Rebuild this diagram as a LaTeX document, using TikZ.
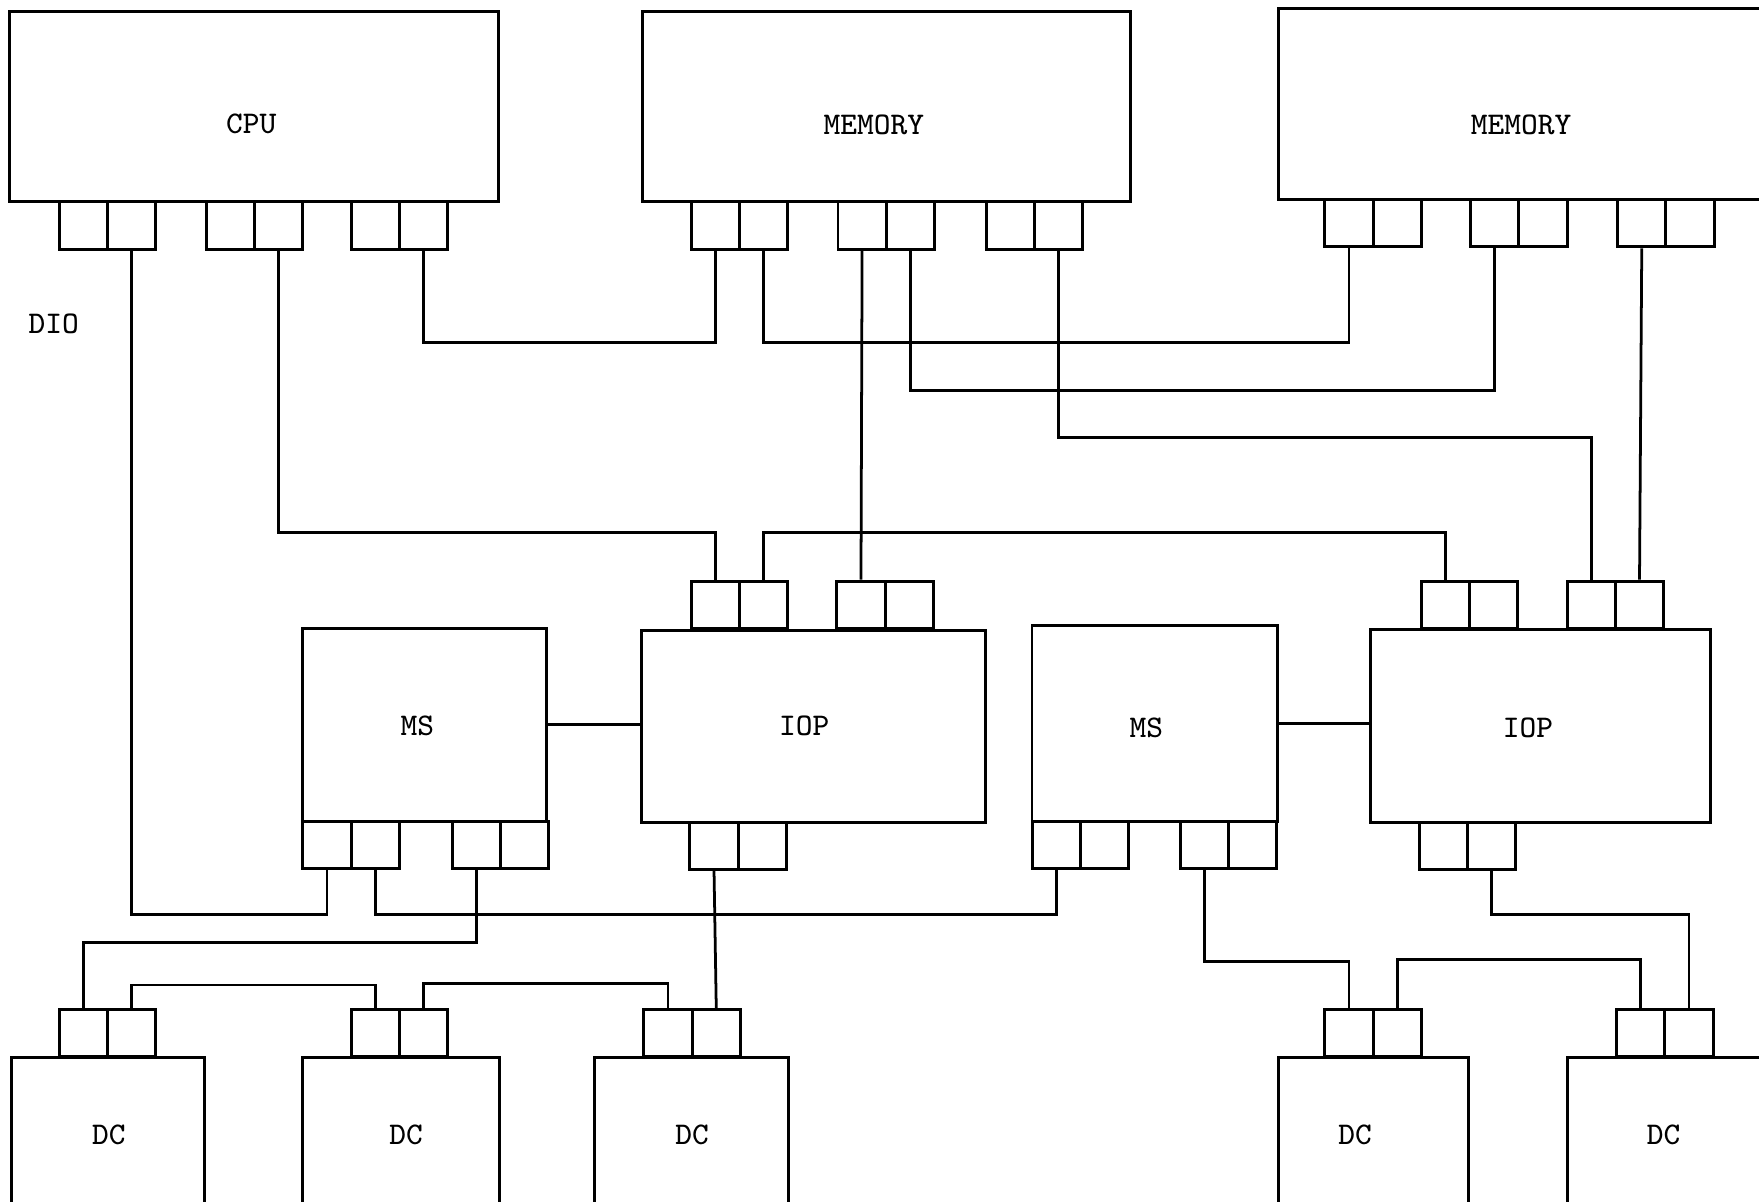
\documentclass[tikz,border=0pt]{standalone}
\usetikzlibrary{calc}

\begin{document}
\begin{tikzpicture}[x=0.01cm, y=-0.01cm, line width=0.75pt,
    unit/.style={draw, inner sep=0pt},
    port/.style={draw, inner sep=0pt, minimum width=0.43cm, minimum height=0.42cm},
    tag/.style={font=\ttfamily\fontsize{8}{10}\selectfont, inner sep=0pt},
    wire/.style={line width=0.7pt}]
            \useasboundingbox (0,0) rectangle (1568,1071);
            \clip (0,0) rectangle (1568,1071);

            % big units
            \node[unit, minimum width=4.35cm, minimum height=1.70cm] (cpu) at (226.5,95) {};
            \node[unit, minimum width=4.35cm, minimum height=1.70cm] (mem1) at (790.5,95) {};
            \node[unit, minimum width=4.35cm, minimum height=1.70cm] (mem2) at (1357.5,93) {};
            \node[unit, minimum width=2.17cm, minimum height=1.72cm] (ms1) at (378.5,646) {};
            \node[unit, minimum width=3.06cm, minimum height=1.71cm] (iop1) at (725,647.5) {};
            \node[unit, minimum width=2.19cm, minimum height=1.74cm] (ms2) at (1029.5,645) {};
            \node[unit, minimum width=3.03cm, minimum height=1.72cm] (iop2) at (1373.5,647) {};
            \node[unit, minimum width=1.72cm, minimum height=1.40cm] (dc1) at (96,1013) {};
            \node[unit, minimum width=1.75cm, minimum height=1.40cm] (dc2) at (357.5,1013) {};
            \node[unit, minimum width=1.73cm, minimum height=1.40cm] (dc3) at (616.5,1013) {};
            \node[unit, minimum width=1.69cm, minimum height=1.40cm] (dc4) at (1224.5,1013) {};
            \node[unit, minimum width=1.78cm, minimum height=1.40cm] (dc5) at (1486,1013) {};

            \node[tag] (cpu-t) at (224,110) {CPU};
            \node[tag] (mem1-t) at (779,111) {MEMORY};
            \node[tag] (mem2-t) at (1356,111) {MEMORY};
            \node[tag] (ms1-t) at (372,647) {MS};
            \node[tag] (iop1-t) at (717,647) {IOP};
            \node[tag] (ms2-t) at (1022,649) {MS};
            \node[tag] (iop2-t) at (1362,649) {IOP};
            \node[tag] (dc1-t) at (97,1012) {DC};
            \node[tag] (dc2-t) at (362,1012) {DC};
            \node[tag] (dc3-t) at (617,1012) {DC};
            \node[tag] (dc4-t) at (1208,1012) {DC};
            \node[tag] (dc5-t) at (1483,1012) {DC};
            \node[tag] (dio) at (48,289) {DIO};

            % port pairs: name / left edge / top edge
            \foreach \n/\x/\y in {cpuP1/53/180, cpuP2/184/180, cpuP3/313/180,
                    memP1/616/180, memP2/747/180, memP3/879/180,
                    mexP1/1181/178, mexP2/1311/178, mexP3/1442/178,
                    iopT1/616/518, iopT2/746/518, iopB/615/733,
                    ioqT1/1267/518, ioqT2/1397/518, ioqB/1265/733,
                    msP1/270/732, msP2/403/732, mtP1/920/732, mtP2/1052/732,
                    dcP1/53/900, dcP2/313/900, dcP3/574/900, dcP4/1181/900, dcP5/1441/900} {
                \node[port] (\n-l) at (\x+21.5,\y+21) {};
                \node[port] (\n-r) at (\x+64.5,\y+21) {};
            }

            % memory side
            \draw[wire] (cpuP3-r.south) -- (cpuP3-r.south |- 0,305) -| (memP1-l.south);
            \draw[wire] (memP1-r.south) -- (memP1-r.south |- 0,305) -| (mexP1-l.south);
            \draw[wire] (memP2-r.south) -- (memP2-r.south |- 0,348) -| (mexP2-l.south);
            \draw[wire] (memP3-r.south) -- (memP3-r.south |- 0,390) -| (ioqT2-l.north);
            \draw[wire] (memP2-l.south) -- (iopT2-l.north);
            \draw[wire] (mexP3-l.south) -- (ioqT2-r.north);
            \draw[wire] (cpuP2-r.south) -- (cpuP2-r.south |- 0,475) -| (iopT1-l.north);
            \draw[wire] (iopT1-r.north) -- (iopT1-r.north |- 0,475) -| (ioqT1-l.north);
            \draw[wire] (cpuP1-r.south) -- (cpuP1-r.south |- 0,815) -| (msP1-l.south);

            % MS to IOP
            \draw[wire] (ms1.east) -- (ms1.east -| iop1.west);
            \draw[wire] (ms2.east) -- (ms2.east -| iop2.west);

            % device side
            \draw[wire] (msP1-r.south) -- (msP1-r.south |- 0,815) -| (mtP1-l.south);
            \draw[wire] (msP2-l.south) -- (msP2-l.south |- 0,840) -| (dcP1-l.north);
            \draw[wire] (iopB-l.south) -- (dcP3-r.north);
            \draw[wire] (dcP1-r.north) -- (dcP1-r.north |- 0,878) -| (dcP2-l.north);
            \draw[wire] (dcP2-r.north) -- (dcP2-r.north |- 0,877) -| (dcP3-l.north);
            \draw[wire] (mtP2-l.south) -- (mtP2-l.south |- 0,857) -| (dcP4-l.north);
            \draw[wire] (dcP4-r.north) -- (dcP4-r.north |- 0,855) -| (dcP5-l.north);
            \draw[wire] (ioqB-r.south) -- (ioqB-r.south |- 0,815) -| (dcP5-r.north);
        \end{tikzpicture}
\end{document}
